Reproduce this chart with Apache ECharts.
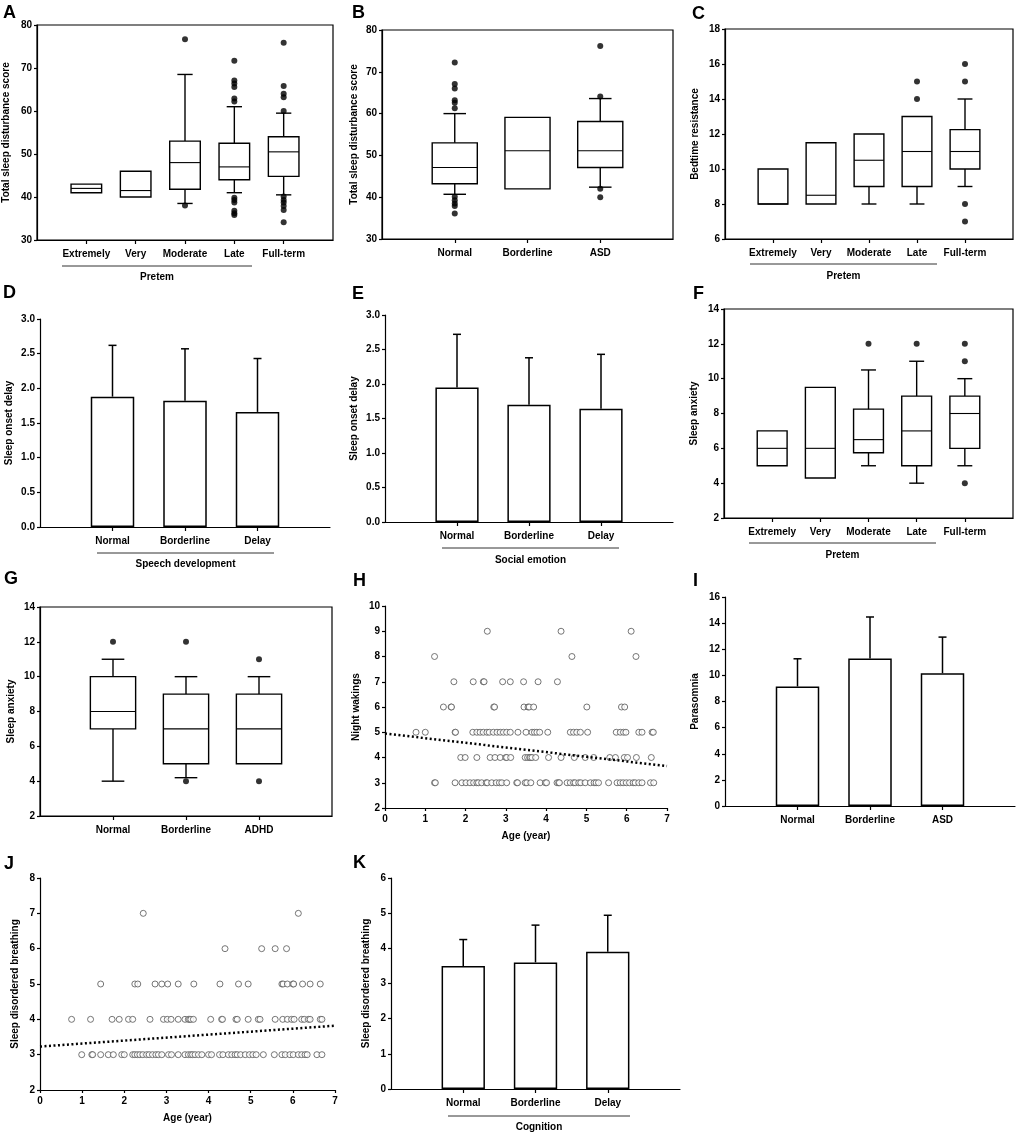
<!DOCTYPE html>
<html>
<head>
<meta charset="utf-8">
<script src="https://cdn.jsdelivr.net/npm/echarts@6/dist/echarts.min.js"></script>
<style>
  html, body { margin: 0; padding: 0; background: #fff; }
  #chart { width: 1021px; height: 1136px; }
</style>
</head>
<body>
<div id="chart"></div>
<script>
var FONT = '"Liberation Sans", Arial, sans-serif';

// ---------- data ----------
var pretermCats = ['Extremely', 'Very', 'Moderate', 'Late', 'Full-term'];
var asdCats = ['Normal', 'Borderline', 'ASD'];
var adhdCats = ['Normal', 'Borderline', 'ADHD'];
var delayCats = ['Normal', 'Borderline', 'Delay'];

// boxes: [low whisker, Q1, median, Q3, high whisker]
var aBoxes = [[41, 41, 42, 43, 43], [40, 40, 41.5, 46, 46], [38.5, 41.8, 48, 53, 68.5], [41, 44, 47, 52.5, 61], [40.5, 44.8, 50.5, 54, 59.5]];
var aOutliers = [['Moderate', 76.7], ['Moderate', 38], ['Late', 71.7], ['Late', 67.1], ['Late', 66.4], ['Late', 65.6], ['Late', 62.9], ['Late', 62.2],
  ['Late', 39.8], ['Late', 39.3], ['Late', 38.7], ['Late', 36.8], ['Late', 36.2], ['Late', 35.8],
  ['Full-term', 75.9], ['Full-term', 65.8], ['Full-term', 64], ['Full-term', 63.2], ['Full-term', 60], ['Full-term', 40.1], ['Full-term', 39.3],
  ['Full-term', 38.7], ['Full-term', 37.9], ['Full-term', 37], ['Full-term', 34.1]];

var bBoxes = [[40.7, 43.2, 47.1, 53, 60], [42, 42, 51.1, 59.1, 59.1], [42.4, 47.1, 51.1, 58.1, 63.6]];
var bOutliers = [['Normal', 72.2], ['Normal', 67.1], ['Normal', 66], ['Normal', 63.2], ['Normal', 62.6], ['Normal', 61.3],
  ['Normal', 40.1], ['Normal', 39.3], ['Normal', 38.5], ['Normal', 37.9], ['Normal', 36.1],
  ['ASD', 76.2], ['ASD', 64.1], ['ASD', 42], ['ASD', 40]];

var cBoxes = [[8, 8, 8, 10, 10], [8, 8, 8.5, 11.5, 11.5], [8, 9, 10.5, 12, 12], [8, 9, 11, 13, 13], [9, 10, 11, 12.25, 14]];
var cOutliers = [['Late', 15], ['Late', 14], ['Full-term', 16], ['Full-term', 15], ['Full-term', 8], ['Full-term', 7]];

var fBoxes = [[5, 5, 6, 7, 7], [4.3, 4.3, 6, 9.5, 9.5], [5, 5.75, 6.5, 8.25, 10.5], [4, 5, 7, 9, 11], [5, 6, 8, 9, 10]];
var fOutliers = [['Moderate', 12], ['Late', 12], ['Full-term', 12], ['Full-term', 11], ['Full-term', 4]];

var gBoxes = [[4, 7, 8, 10, 11], [4.2, 5, 7, 9, 10], [5, 5, 7, 9, 10]];
var gOutliers = [['Normal', 12], ['Borderline', 12], ['Borderline', 4], ['ADHD', 11], ['ADHD', 4]];

// bar panels: mean and SD
var dMeans = [1.88, 1.82, 1.66];
var dSd = [0.74, 0.75, 0.77];
var eMeans = [1.95, 1.70, 1.64];
var eSd = [0.77, 0.68, 0.79];
var iMeans = [9.15, 11.3, 10.17];
var iSd = [2.12, 3.17, 2.76];
var kMeans = [3.5, 3.6, 3.9];
var kSd = [0.75, 1.06, 1.04];

// scatter panels: [score, ages of children with that score]
var hRows = [
  [9, [2.54, 4.37, 6.11]],
  [8, [1.23, 4.64, 6.23]],
  [7, [1.71, 2.19, 2.44, 2.46, 2.92, 3.11, 3.44, 3.80, 4.28]],
  [6, [1.45, 1.64, 1.65, 2.70, 2.72, 3.45, 3.55, 3.58, 3.69, 5.01, 5.87, 5.95]],
  [5, [0.77, 1.00, 1.74, 1.75, 2.18, 2.28, 2.36, 2.44, 2.53, 2.59, 2.69, 2.78, 2.86, 2.94, 3.02, 3.11, 3.30, 3.50, 3.65, 3.71, 3.77, 3.84, 4.04,
       4.60, 4.68, 4.76, 4.85, 5.03, 5.74, 5.84, 5.92, 5.98, 6.30, 6.38, 6.63, 6.66]],
  [4, [1.88, 1.99, 2.28, 2.61, 2.73, 2.86, 3.00, 3.02, 3.12, 3.48, 3.54, 3.59, 3.61, 3.65, 3.74, 4.06, 4.37, 4.70, 4.97, 5.18, 5.58, 5.72,
       5.94, 6.02, 6.24, 6.61]],
  [3, [1.23, 1.25, 1.74, 1.91, 2.01, 2.11, 2.20, 2.28, 2.32, 2.40, 2.51, 2.54, 2.65, 2.76, 2.84, 2.90, 3.02, 3.27, 3.29, 3.48, 3.52, 3.62,
       3.85, 3.98, 4.01, 4.27, 4.31, 4.33, 4.52, 4.60, 4.68, 4.72, 4.81, 4.86, 4.97, 5.10, 5.19, 5.24, 5.30, 5.55, 5.76, 5.84, 5.91, 5.99,
       6.07, 6.16, 6.21, 6.30, 6.38, 6.59, 6.67]]
];
var hTrend = [[0, 4.95], [7, 3.66]];

var jRows = [
  [7, [2.45, 6.13]],
  [6, [4.39, 5.26, 5.58, 5.85]],
  [5, [1.44, 2.25, 2.32, 2.73, 2.89, 3.03, 3.28, 3.65, 4.27, 4.71, 4.94, 5.74, 5.77, 5.87, 6.00, 6.02, 6.23, 6.41, 6.65]],
  [4, [0.75, 1.20, 1.71, 1.88, 2.10, 2.20, 2.61, 2.93, 3.02, 3.11, 3.28, 3.44, 3.52, 3.55, 3.58, 3.64, 4.05, 4.31, 4.33, 4.65, 4.68, 4.94,
       5.18, 5.22, 5.58, 5.76, 5.87, 5.97, 6.03, 6.21, 6.27, 6.37, 6.41, 6.65, 6.69]],
  [3, [0.99, 1.23, 1.25, 1.44, 1.62, 1.74, 1.94, 2.00, 2.20, 2.25, 2.31, 2.37, 2.44, 2.53, 2.59, 2.67, 2.75, 2.81, 2.89, 3.05, 3.12, 3.28,
       3.44, 3.52, 3.58, 3.62, 3.68, 3.76, 3.84, 4.00, 4.07, 4.26, 4.34, 4.47, 4.55, 4.63, 4.68, 4.76, 4.87, 4.97, 5.05, 5.13, 5.30, 5.56,
       5.74, 5.82, 5.93, 6.01, 6.13, 6.21, 6.29, 6.34, 6.57, 6.69]]
];
var jTrend = [[0, 3.23], [7, 3.82]];

// ---------- builders ----------
var grids = [], xAxes = [], yAxes = [], series = [], graphics = [];
var labelStyle = { color: '#000', fontWeight: 'bold', fontSize: 10, fontFamily: FONT };
var black = { color: '#000', width: 1.2 };

function addGrid(rect, framed) {
  grids.push({
    left: rect[0], top: rect[1], width: rect[2], height: rect[3],
    show: framed, borderColor: '#000', borderWidth: 1.2, backgroundColor: 'transparent'
  });
  return grids.length - 1;
}

function catAxis(g, cats) {
  var n = cats.length;
  return {
    gridIndex: g, type: 'category', boundaryGap: false,
    data: [''].concat(cats, ['']),
    axisLine: { lineStyle: black },
    axisTick: { length: 4, lineStyle: black, interval: function (i) { return i > 0 && i <= n; } },
    axisLabel: Object.assign({ interval: 0, margin: 9 }, labelStyle),
    splitLine: { show: false }
  };
}

function valAxis(g, min, max, step, name, gap, decimals) {
  return {
    gridIndex: g, type: 'value', min: min, max: max, interval: step,
    name: name, nameLocation: 'middle', nameGap: gap,
    nameTextStyle: { color: '#000', fontWeight: 'bold', fontSize: 10, fontFamily: FONT },
    axisLine: { show: true, onZero: false, lineStyle: black },
    axisTick: { show: true, length: 3, lineStyle: black },
    axisLabel: Object.assign({ margin: 5, formatter: function (v) { return decimals ? v.toFixed(decimals) : String(v); } }, labelStyle),
    splitLine: { show: false }
  };
}

function boxRender(params, api) {
  var x = api.value(0);
  var lo = api.coord([x, api.value(1)]);
  var q1 = api.coord([x, api.value(2)]);
  var md = api.coord([x, api.value(3)]);
  var q3 = api.coord([x, api.value(4)]);
  var hi = api.coord([x, api.value(5)]);
  var step = api.coord([x + 1, api.value(3)])[0] - md[0];
  var w = step * 0.62, cw = w * 0.5, cx = md[0];
  var line = { stroke: '#000', lineWidth: 1.4, fill: null };
  var kids = [
    { type: 'rect', shape: { x: cx - w / 2, y: q3[1], width: w, height: q1[1] - q3[1] }, style: { fill: '#fff', stroke: '#000', lineWidth: 1.4 } },
    { type: 'line', shape: { x1: cx - w / 2, y1: md[1], x2: cx + w / 2, y2: md[1] }, style: { stroke: '#000', lineWidth: 1.1 } }
  ];
  if (lo[1] - q1[1] > 0.5) {
    kids.push({ type: 'line', shape: { x1: cx, y1: q1[1], x2: cx, y2: lo[1] }, style: line });
    kids.push({ type: 'line', shape: { x1: cx - cw / 2, y1: lo[1], x2: cx + cw / 2, y2: lo[1] }, style: line });
  }
  if (q3[1] - hi[1] > 0.5) {
    kids.push({ type: 'line', shape: { x1: cx, y1: q3[1], x2: cx, y2: hi[1] }, style: line });
    kids.push({ type: 'line', shape: { x1: cx - cw / 2, y1: hi[1], x2: cx + cw / 2, y2: hi[1] }, style: line });
  }
  return { type: 'group', children: kids };
}

function errRender(params, api) {
  var x = api.value(0);
  var base = api.coord([x, api.value(1)]);
  var top = api.coord([x, api.value(2)]);
  var st = { stroke: '#000', lineWidth: 1.5 };
  return {
    type: 'group', children: [
      { type: 'line', shape: { x1: base[0], y1: base[1], x2: top[0], y2: top[1] }, style: st },
      { type: 'line', shape: { x1: top[0] - 4, y1: top[1], x2: top[0] + 4, y2: top[1] }, style: st }
    ]
  };
}

function boxPanel(rect, cats, boxes, outliers, yMin, yMax, yStep, yName, gap) {
  var g = addGrid(rect, true);
  xAxes.push(catAxis(g, cats));
  yAxes.push(valAxis(g, yMin, yMax, yStep, yName, gap, 0));
  series.push({
    type: 'custom', xAxisIndex: g, yAxisIndex: g, renderItem: boxRender,
    encode: { x: 0, y: [1, 2, 3, 4, 5] },
    data: boxes.map(function (b, i) { return [i + 1].concat(b); })
  });
  series.push({
    type: 'scatter', xAxisIndex: g, yAxisIndex: g, symbol: 'circle', symbolSize: 6,
    itemStyle: { color: '#000' },
    data: outliers.map(function (o) { return [cats.indexOf(o[0]) + 1, o[1]]; })
  });
}

function barPanel(rect, cats, means, sds, yMin, yMax, yStep, yName, gap, decimals) {
  var g = addGrid(rect, false);
  xAxes.push(catAxis(g, cats));
  yAxes.push(valAxis(g, yMin, yMax, yStep, yName, gap, decimals));
  series.push({
    type: 'bar', xAxisIndex: g, yAxisIndex: g, barWidth: '60%',
    itemStyle: { color: '#fff', borderColor: '#000', borderWidth: 1.5 },
    data: ['-'].concat(means, ['-'])
  });
  series.push({
    type: 'custom', xAxisIndex: g, yAxisIndex: g, renderItem: errRender, z: 3,
    encode: { x: 0, y: [1, 2] },
    data: means.map(function (m, i) { return [i + 1, m, m + sds[i]]; })
  });
}

function scatterPanel(rect, rows, trend, yMin, yMax, yName, gap) {
  var g = addGrid(rect, false);
  xAxes.push({
    gridIndex: g, type: 'value', min: 0, max: 7, interval: 1,
    name: 'Age (year)', nameLocation: 'middle', nameGap: 23,
    nameTextStyle: { color: '#000', fontWeight: 'bold', fontSize: 10, fontFamily: FONT },
    axisLine: { show: true, onZero: false, lineStyle: black },
    axisTick: { show: true, length: 3, lineStyle: black },
    axisLabel: Object.assign({ margin: 6 }, labelStyle),
    splitLine: { show: false }
  });
  yAxes.push(valAxis(g, yMin, yMax, 1, yName, gap, 0));
  var pts = [];
  rows.forEach(function (r) { r[1].forEach(function (a) { pts.push([a, r[0]]); }); });
  series.push({
    type: 'scatter', xAxisIndex: g, yAxisIndex: g, symbol: 'circle', symbolSize: 6,
    itemStyle: { color: '#fff', borderColor: '#555', borderWidth: 1 },
    data: pts
  });
  series.push({
    type: 'line', xAxisIndex: g, yAxisIndex: g, symbol: 'none', z: 3,
    lineStyle: { color: '#000', width: 2.5, type: [2, 2.5] },
    data: trend
  });
}

function letter(ch, x, y) {
  graphics.push({ type: 'text', left: x, top: y, style: { text: ch, fill: '#000', font: 'bold 18px ' + FONT } });
}

function groupLabel(x1, x2, y, text, ty) {
  graphics.push({ type: 'line', shape: { x1: x1, y1: y, x2: x2, y2: y }, style: { stroke: '#333', lineWidth: 1 } });
  graphics.push({
    type: 'text', x: (x1 + x2) / 2, y: ty,
    style: { text: text, fill: '#000', font: 'bold 10px ' + FONT, textAlign: 'center', textVerticalAlign: 'middle' }
  });
}

// ---------- panels ----------
boxPanel([37, 25, 296, 215], pretermCats, aBoxes, aOutliers, 30, 80, 10, 'Total sleep disturbance score', 26);
boxPanel([382, 30, 291, 209], asdCats, bBoxes, bOutliers, 30, 80, 10, 'Total sleep disturbance score', 23);
boxPanel([725, 29, 288, 210], pretermCats, cBoxes, cOutliers, 6, 18, 2, 'Bedtime resistance', 25);
barPanel([40, 319, 290, 208], delayCats, dMeans, dSd, 0, 3, 0.5, 'Sleep onset delay', 26, 1);
barPanel([385, 315, 288, 207], delayCats, eMeans, eSd, 0, 3, 0.5, 'Sleep onset delay', 26, 1);
boxPanel([724, 309, 289, 209], pretermCats, fBoxes, fOutliers, 2, 14, 2, 'Sleep anxiety', 25);
boxPanel([40, 607, 292, 209], adhdCats, gBoxes, gOutliers, 2, 14, 2, 'Sleep anxiety', 24);
scatterPanel([385, 606, 282, 202], hRows, hTrend, 2, 10, 'Night wakings', 24);
barPanel([725, 597, 290, 209], asdCats, iMeans, iSd, 0, 16, 2, 'Parasomnia', 25, 0);
scatterPanel([40, 878, 295, 212], jRows, jTrend, 2, 8, 'Sleep disordered breathing', 20);
barPanel([391, 878, 289, 211], delayCats, kMeans, kSd, 0, 6, 1, 'Sleep disordered breathing', 20, 0);

letter('A', 3, 4); letter('B', 352, 4); letter('C', 692, 5);
letter('D', 3, 284); letter('E', 352, 285); letter('F', 693, 285);
letter('G', 4, 570); letter('H', 353, 572); letter('I', 693, 572);
letter('J', 4, 855); letter('K', 353, 854);

groupLabel(62, 252, 266, 'Pretem', 277);
groupLabel(750, 937, 264, 'Pretem', 276);
groupLabel(97, 274, 553, 'Speech development', 564);
groupLabel(442, 619, 548, 'Social emotion', 560);
groupLabel(749, 936, 543, 'Pretem', 555);
groupLabel(448, 630, 1116, 'Cognition', 1127);

var chart = echarts.init(document.getElementById('chart'));
chart.setOption({
  animation: false,
  backgroundColor: '#fff',
  grid: grids,
  xAxis: xAxes,
  yAxis: yAxes,
  series: series,
  graphic: graphics
});
window.addEventListener('resize', function () { chart.resize(); });
</script>
</body>
</html>
